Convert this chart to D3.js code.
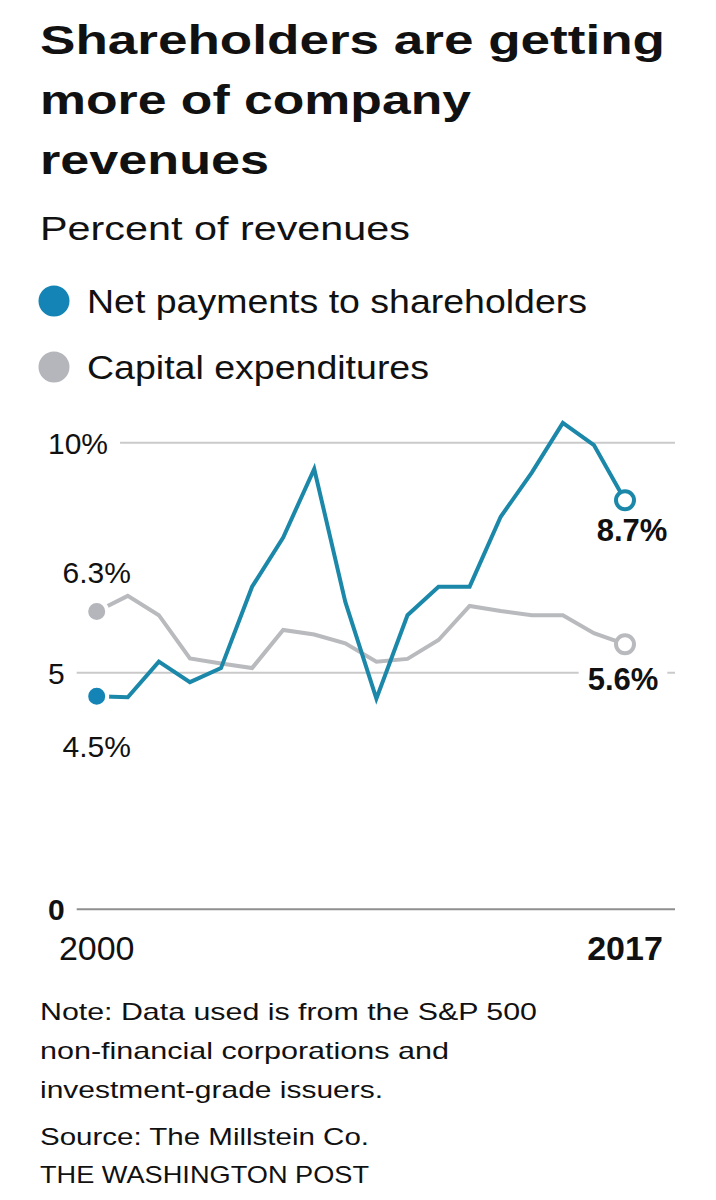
<!DOCTYPE html>
<html>
<head>
<meta charset="utf-8">
<script src="https://cdn.jsdelivr.net/npm/d3@7"></script>
<style>
  html, body { margin: 0; padding: 0; background: #fff; }
  svg { display: block; }
  text { font-family: "Liberation Sans", Arial, sans-serif; fill: #111; }
</style>
</head>
<body>
<svg id="chart" width="716" height="1200"></svg>
<script>
// ---------- DATA ----------
const years = [2000,2001,2002,2003,2004,2005,2006,2007,2008,2009,2010,2011,2012,2013,2014,2015,2016,2017];
const netPayments = [4.5,4.48,5.24,4.8,5.1,6.87,7.94,9.43,6.54,4.45,6.25,6.87,6.87,8.39,9.35,10.43,9.95,8.75];
const capex = [6.33,6.67,6.25,5.31,5.2,5.1,5.93,5.83,5.64,5.24,5.3,5.71,6.45,6.34,6.25,6.25,5.86,5.62];
const yTicks = [0, 5, 10];
const yTickLabels = ["0", "5", "10%"];
const seriesNames = ["Net payments to shareholders", "Capital expenditures"];
const startLabels = ["4.5%", "6.3%"];
const endLabels = ["8.7%", "5.6%"];
const titleLines = ["Shareholders are getting", "more of company", "revenues"];
const subtitle = "Percent of revenues";
const noteLines = ["Note: Data used is from the S&P 500", "non-financial corporations and", "investment-grade issuers."];
const sourceLine = "Source: The Millstein Co.";
const creditLine = "THE WASHINGTON POST";

// ---------- STYLE ----------
const BLUE = "#1b88a9", BLUE_DOT = "#1384b5";
const GRAY = "#b9babd", GRAY_DOT = "#b5b6bb";

const svg = d3.select("#chart");

function fit(sel, w) {
  sel.attr("textLength", w).attr("lengthAdjust", "spacingAndGlyphs");
  return sel;
}

// Title
const titleW = [625, 431, 229];
titleLines.forEach((t, i) => {
  fit(svg.append("text").attr("x", 40).attr("y", 54 + i * 60)
    .attr("font-size", 41).attr("font-weight", "bold").text(t), titleW[i]);
});

// Subtitle
fit(svg.append("text").attr("x", 40).attr("y", 240).attr("font-size", 33).attr("fill", "#1a1a1a").text(subtitle), 370);

// Legend
const legendW = [500, 342];
const legendColors = [BLUE_DOT, GRAY_DOT];
seriesNames.forEach((n, i) => {
  const cy = 301 + i * 66;
  svg.append("circle").attr("cx", 54).attr("cy", cy).attr("r", 15.5).attr("fill", legendColors[i]);
  fit(svg.append("text").attr("x", 87).attr("y", cy + 12).attr("font-size", 33).attr("fill", "#1a1a1a").text(n), legendW[i]);
});

// Scales
const x = d3.scaleLinear().domain([2000, 2017]).range([96.7, 625]);
const y = d3.scaleLinear().domain([0, 5, 10]).range([909.3, 672.7, 442.7]);

// Gridlines + labels
const gridG = svg.append("g");
yTicks.forEach((v, i) => {
  const isZero = v === 0;
  const lbl = gridG.append("text").attr("x", 48).attr("y", y(v) + 11)
    .attr("font-size", 30).attr("font-weight", isZero ? "bold" : "normal")
    .attr("fill", "#1a1a1a").text(yTickLabels[i]);
  const bb = lbl.node().getBBox();
  gridG.append("line")
    .attr("x1", Math.min(bb.x + bb.width + 12, isZero || v === 5 ? 80 : 999))
    .attr("x2", 675).attr("y1", y(v)).attr("y2", y(v))
    .attr("stroke", isZero ? "#8f8f8f" : "#cacaca").attr("stroke-width", 2);
});

// X labels
svg.append("text").attr("x", x(2000)).attr("y", 960).attr("text-anchor", "middle")
  .attr("font-size", 34).attr("fill", "#1a1a1a").text(String(years[0]));
svg.append("text").attr("x", x(2017)).attr("y", 960).attr("text-anchor", "middle")
  .attr("font-size", 34).attr("font-weight", "bold").text(String(years[years.length - 1]));

// Lines
const line = d3.line().x((d, i) => x(years[i])).y(d => y(d));
const series = [
  { vals: capex, color: GRAY, dot: GRAY_DOT },
  { vals: netPayments, color: BLUE, dot: BLUE_DOT }
];
series.forEach(s => {
  svg.append("path").datum(s.vals).attr("d", line)
    .attr("fill", "none").attr("stroke", s.color).attr("stroke-width", 4)
    .attr("stroke-linejoin", "miter").attr("stroke-linecap", "butt");
});
series.forEach(s => {
  svg.append("circle").attr("cx", x(years[0])).attr("cy", y(s.vals[0])).attr("r", 10.5)
    .attr("fill", s.dot).attr("stroke", "#fff").attr("stroke-width", 4);
  const n = s.vals.length - 1;
  svg.append("circle").attr("cx", x(years[n])).attr("cy", y(s.vals[n])).attr("r", 9)
    .attr("fill", "#fff").attr("stroke", s.color).attr("stroke-width", 4);
});

// Start labels
svg.append("text").attr("x", x(2000)).attr("y", y(capex[0]) - 29).attr("text-anchor", "middle")
  .attr("font-size", 30).attr("fill", "#1a1a1a").text(startLabels[1]);
svg.append("text").attr("x", x(2000)).attr("y", y(netPayments[0]) + 61).attr("text-anchor", "middle")
  .attr("font-size", 30).attr("fill", "#1a1a1a").text(startLabels[0]);

// End labels
const last = years.length - 1;
svg.append("text").attr("x", x(2017) + 7).attr("y", y(netPayments[last]) + 41).attr("text-anchor", "middle")
  .attr("font-size", 31).attr("font-weight", "bold").text(endLabels[0]);
const capLbl = svg.append("text").attr("x", x(2017) - 2).attr("y", y(capex[last]) + 46).attr("text-anchor", "middle")
  .attr("font-size", 31).attr("font-weight", "bold").text(endLabels[1]);
const cb = capLbl.node().getBBox();
svg.insert("rect", () => capLbl.node())
  .attr("x", cb.x - 9).attr("y", cb.y).attr("width", cb.width + 18).attr("height", cb.height)
  .attr("fill", "#fff");

// Notes
const noteW = [497, 409, 343];
noteLines.forEach((t, i) => {
  fit(svg.append("text").attr("x", 40).attr("y", 1020 + i * 39).attr("font-size", 24).attr("fill", "#1a1a1a").text(t), noteW[i]);
});
fit(svg.append("text").attr("x", 40).attr("y", 1145).attr("font-size", 24).attr("fill", "#1a1a1a").text(sourceLine), 329);
fit(svg.append("text").attr("x", 40).attr("y", 1183).attr("font-size", 24).attr("fill", "#1a1a1a").text(creditLine), 329);
</script>
</body>
</html>
